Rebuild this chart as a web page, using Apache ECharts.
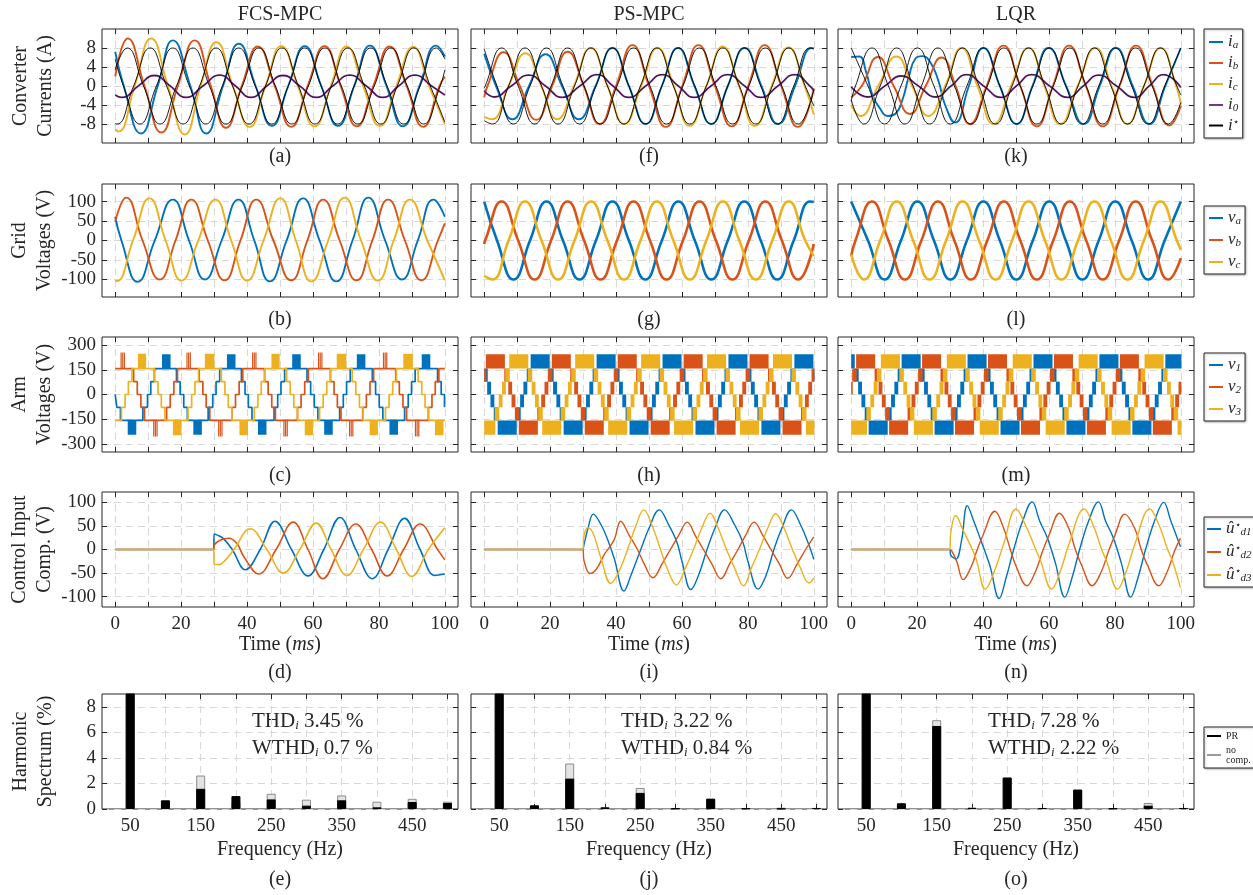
<!DOCTYPE html>
<html>
<head>
<meta charset="utf-8">
<script src="https://cdn.jsdelivr.net/npm/echarts@6/dist/echarts.min.js"></script>
<style>html,body{margin:0;padding:0;background:#fff}#chart{width:1253px;height:895px}</style>
</head>
<body>
<div id="chart"></div>
<script>
// ---------------- converter currents (A), [t ms, value] ----------------
const iaFcs = [[0,7.2],[2.6,0],[7.8,-10.0],[12.9,0],[17.5,9.6],[22.8,0],[27.6,-10.0],[32.7,0],[37.5,8.9],[42.6,0],[47.5,-8.4],[52.5,0],[57.5,8.4],[62.5,0],[67.6,-8.4],[72.5,0],[77.3,8.5],[82.3,0],[87.3,-8.5],[92.3,0],[97.4,8.5],[100,6.2]];
const ibFcs = [[0,2.0],[3.8,10.0],[8.9,0],[14.0,-9.8],[19.0,0],[24.1,9.6],[29.0,0],[33.6,-8.8],[38.4,0],[43.3,8.3],[48.4,0],[53.4,-8.6],[58.4,0],[63.5,8.4],[68.4,0],[73.3,-8.5],[78.3,0],[83.3,8.3],[88.4,0],[93.4,-8.6],[98.4,0],[100,2.0]];
const icFcs = [[0,-9.1],[1.0,-9.6],[5.9,0],[10.9,10.0],[16.0,0],[21.1,-10.2],[25.9,0],[30.7,9.2],[35.7,0],[40.8,-8.6],[45.6,0],[50.4,8.4],[55.4,0],[60.5,-8.5],[65.4,0],[70.2,8.3],[75.2,0],[80.3,-8.4],[85.3,0],[90.4,8.2],[95.2,0],[100,-8.0]];
const i0Fcs = [[0,-1.9],[2.0,-2.4],[7.0,0],[11.9,2.2],[16.7,0],[21.5,-2.4],[26.6,0],[31.7,2.3],[36.5,0],[41.2,-2.4],[46.0,0],[50.9,2.2],[56.0,0],[61.0,-2.4],[66.0,0],[71.2,2.3],[76.2,0],[81.2,-2.4],[86.0,0],[90.9,2.3],[96.0,0],[100,-1.9]];
const refAFcs = [[0,5.7],[2.5,0],[7.5,-8],[12.5,0],[17.5,8],[22.5,0],[27.5,-8],[32.5,0],[37.5,8],[42.5,0],[47.5,-8],[52.5,0],[57.5,8],[62.5,0],[67.5,-8],[72.5,0],[77.5,8],[82.5,0],[87.5,-8],[92.5,0],[97.5,8],[100,5.7]];
const refBFcs = [[0,3.4],[3.6,8],[8.6,0],[13.6,-8],[18.6,0],[23.6,8],[28.6,0],[33.6,-8],[38.6,0],[43.6,8],[48.6,0],[53.6,-8],[58.6,0],[63.6,8],[68.6,0],[73.6,-8],[78.6,0],[83.6,8],[88.6,0],[93.6,-8],[98.6,0],[100,3.4]];
const refCFcs = [[0,-7.9],[0.6,-8],[5.6,0],[10.6,8],[15.6,0],[20.6,-8],[25.6,0],[30.6,8],[35.6,0],[40.6,-8],[45.6,0],[50.6,8],[55.6,0],[60.6,-8],[65.6,0],[70.6,8],[75.6,0],[80.6,-8],[85.6,0],[90.6,8],[95.6,0],[100,-7.6]];

const iaPs = [[0,6.8],[3.6,0],[8.6,-7.0],[13.6,0],[18.6,6.7],[23.6,0],[28.7,-7.0],[33.8,0],[38.9,8.0],[43.9,0],[49.0,-8.0],[53.9,0],[58.8,8.0],[63.8,0],[68.9,-8.0],[73.9,0],[79.0,8.0],[84.1,0],[89.2,-8.0],[94.3,0],[99.4,8.0],[100,7.9]];
const ibPs = [[0,-2.4],[1.0,0],[5.9,7.1],[10.8,0],[15.8,-7.1],[20.6,0],[25.3,7.2],[30.2,0],[35.0,-8.0],[40.0,0],[45.0,8.6],[50.0,0],[55.1,-8.6],[60.1,0],[65.0,8.6],[70.0,0],[75.1,-8.5],[80.1,0],[85.1,8.6],[90.1,0],[95.2,-8.6],[100,-0.5]];
const icPs = [[0,-6.5],[2.3,-7.0],[7.4,0],[12.5,6.9],[17.3,0],[22.1,-7.0],[27.2,0],[32.3,8.0],[37.4,0],[42.5,-8.0],[47.6,0],[52.6,8.0],[57.5,0],[62.3,-8.4],[67.4,0],[72.4,8.3],[77.3,0],[82.1,-8.4],[87.2,0],[92.3,8.1],[97.2,0],[100,-6.0]];
const i0Ps = [[0,-1.0],[3.0,-2.3],[8.2,0],[13.5,2.3],[18.6,0],[23.7,-2.4],[29.0,0],[34.3,2.4],[39.1,0],[43.9,-2.4],[49.0,0],[54.1,2.4],[58.9,0],[63.7,-2.4],[68.8,0],[73.9,2.4],[79.0,0],[84.0,-2.4],[89.1,0],[94.2,2.4],[98.8,0],[100,-1.0]];
const refAPs = [[0,7.8],[3.9,0],[8.9,-8],[13.9,0],[18.9,8],[23.9,0],[28.9,-8],[33.9,0],[38.9,8],[43.9,0],[48.9,-8],[53.9,0],[58.9,8],[63.9,0],[68.9,-8],[73.9,0],[78.9,8],[83.9,0],[88.9,-8],[93.9,0],[98.9,8],[100,7.8]];
const refBPs = [[0,-0.5],[0.3,0],[5.3,8],[10.3,0],[15.3,-8],[20.3,0],[25.3,8],[30.3,0],[35.3,-8],[40.3,0],[45.3,8],[50.3,0],[55.3,-8],[60.3,0],[65.3,8],[70.3,0],[75.3,-8],[80.3,0],[85.3,8],[90.3,0],[95.3,-8],[100,-0.8]];
const refCPs = [[0,-7.3],[2.4,-8],[7.4,0],[12.4,8],[17.4,0],[22.4,-8],[27.4,0],[32.4,8],[37.4,0],[42.4,-8],[47.4,0],[52.4,8],[57.4,0],[62.4,-8],[67.4,0],[72.4,8],[77.4,0],[82.4,-8],[87.4,0],[92.4,8],[97.4,0],[100,-4.2]];

const iaLqr = [[0,6.1],[2.5,6.2],[4.5,3.0],[6.5,-2.0],[8.5,-4.5],[11.2,-6.3],[13.5,-5.8],[15.5,-3.0],[17.5,2.0],[19.5,5.8],[21.5,6.3],[24.0,5.0],[26.5,1.0],[28.5,-4.0],[31.5,-7.7],[35.7,0],[40.1,8.0],[45.1,0],[50.2,-8.0],[55.0,0],[59.9,8.0],[65.2,0],[70.6,-8.0],[75.4,0],[80.3,8.0],[85.4,0],[90.5,-8.0],[95.3,0],[100,8.0]];
const ibLqr = [[0,-2.4],[3.2,0],[8.1,6.1],[12.9,0],[17.8,-5.9],[22.6,0],[27.4,6.0],[31.7,0],[36.0,-8.0],[41.1,0],[46.2,8.5],[51.3,0],[56.3,-8.5],[61.2,0],[66.1,8.5],[71.2,0],[76.3,-8.5],[81.4,0],[86.4,8.5],[91.5,0],[96.6,-8.3],[100,-4.2]];
const icLqr = [[0,-4.0],[2.8,-6.3],[8.2,0],[13.7,6.2],[18.5,0],[23.4,-6.3],[28.5,0],[33.5,8.0],[38.3,0],[43.2,-8.0],[48.5,0],[53.8,8.0],[58.6,0],[63.4,-8.0],[68.7,0],[74.1,8.0],[79.0,0],[83.8,-8.0],[88.8,0],[93.9,8.0],[98.6,0],[100,-3.8]];
const i0Lqr = [[0,-0.2],[5.0,-2.3],[10.2,0],[15.2,2.1],[20.4,0],[25.6,-2.3],[30.3,0],[35.0,2.4],[40.2,0],[45.4,-2.4],[50.1,0],[54.8,2.4],[60.2,0],[65.7,-2.4],[70.4,0],[75.1,2.3],[80.5,0],[86.0,-2.4],[90.4,0],[94.8,2.4],[100,-0.3]];
const refALqr = [[0,8],[5.1,0],[10.1,-8],[15.1,0],[20.1,8],[25.1,0],[30.1,-8],[35.1,0],[40.1,8],[45.1,0],[50.1,-8],[55.1,0],[60.1,8],[65.1,0],[70.1,-8],[75.1,0],[80.1,8],[85.1,0],[90.1,-8],[95.1,0],[100,8]];
const refBLqr = [[0,-3.2],[1.3,0],[6.3,8],[11.3,0],[16.3,-8],[21.3,0],[26.3,8],[31.3,0],[36.3,-8],[41.3,0],[46.3,8],[51.3,0],[56.3,-8],[61.3,0],[66.3,8],[71.3,0],[76.3,-8],[81.3,0],[86.3,8],[91.3,0],[96.3,-8],[100,-3.5]];
const refCLqr = [[0,-2.9],[3.8,-8],[8.8,0],[13.8,8],[18.8,0],[23.8,-8],[28.8,0],[33.8,8],[38.8,0],[43.8,-8],[48.8,0],[53.8,8],[58.8,0],[63.8,-8],[68.8,0],[73.8,8],[78.8,0],[83.8,-8],[88.8,0],[93.8,8],[98.8,0],[100,-1.9]];

// ---------------- grid voltages (V) ----------------
const vaFcs = [[0,61],[1.9,0],[6.8,-106],[12.0,0],[17.5,105],[22.4,0],[27.2,-100],[32.3,0],[37.4,105],[42.2,0],[46.9,-105],[52.0,0],[57.0,108],[62.0,0],[67.1,-105],[72.0,0],[76.8,110],[81.9,0],[87.0,-100],[91.8,0],[96.6,105],[100,61]];
const vbFcs = [[0,48],[3.3,110],[8.3,0],[13.5,-100],[18.3,0],[23.1,105],[28.1,0],[33.2,-102],[38.0,0],[42.8,105],[48.0,0],[53.4,-102],[58.3,0],[63.1,105],[68.1,0],[73.2,-102],[78.0,0],[82.8,105],[87.9,0],[92.9,-102],[97.9,0],[100,44]];
const vcFcs = [[0,-102],[0.5,-104],[5.4,0],[10.4,108],[15.3,0],[20.1,-103],[25.2,0],[30.4,105],[35.2,0],[40.0,-103],[45.0,0],[50.1,108],[54.8,0],[59.5,-105],[64.6,0],[69.6,110],[74.6,0],[79.7,-103],[84.5,0],[89.4,105],[94.7,0],[100,-102]];
const vaPs = [[0,99],[3.9,0],[8.9,-100],[13.9,0],[18.9,100],[23.9,0],[28.9,-100],[33.9,0],[38.9,100],[43.9,0],[48.9,-100],[53.9,0],[58.9,100],[63.9,0],[68.9,-100],[73.9,0],[78.9,100],[83.9,0],[88.9,-100],[93.9,0],[98.9,100],[100,99]];
const vbPs = [[0,-9],[0.3,0],[5.3,100],[10.3,0],[15.3,-100],[20.3,0],[25.3,100],[30.3,0],[35.3,-100],[40.3,0],[45.3,100],[50.3,0],[55.3,-100],[60.3,0],[65.3,100],[70.3,0],[75.3,-100],[80.3,0],[85.3,100],[90.3,0],[95.3,-100],[100,-9]];
const vcPs = [[0,-91],[2.4,-100],[7.4,0],[12.4,100],[17.4,0],[22.4,-100],[27.4,0],[32.4,100],[37.4,0],[42.4,-100],[47.4,0],[52.4,100],[57.4,0],[62.4,-100],[67.4,0],[72.4,100],[77.4,0],[82.4,-100],[87.4,0],[92.4,100],[97.4,0],[100,-40]];
const vaLqr = [[0,100],[5.1,0],[10.1,-100],[15.1,0],[20.1,100],[25.1,0],[30.1,-100],[35.1,0],[40.1,100],[45.1,0],[50.1,-100],[55.1,0],[60.1,100],[65.1,0],[70.1,-100],[75.1,0],[80.1,100],[85.1,0],[90.1,-100],[95.1,0],[100,100]];
const vbLqr = [[0,-40],[1.3,0],[6.3,100],[11.3,0],[16.3,-100],[21.3,0],[26.3,100],[31.3,0],[36.3,-100],[41.3,0],[46.3,100],[51.3,0],[56.3,-100],[61.3,0],[66.3,100],[71.3,0],[76.3,-100],[81.3,0],[86.3,100],[91.3,0],[96.3,-100],[100,-45]];
const vcLqr = [[0,-36],[3.8,-100],[8.8,0],[13.8,100],[18.8,0],[23.8,-100],[28.8,0],[33.8,100],[38.8,0],[43.8,-100],[48.8,0],[53.8,100],[58.8,0],[63.8,-100],[68.8,0],[73.8,100],[78.8,0],[83.8,-100],[88.8,0],[93.8,100],[98.8,0],[100,-24]];

// ---------------- arm voltages (V) ----------------
// FCS-MPC: step levels [t, v] plus switching bursts [t0, t1, lo, hi]
const v1Fcs = [[0,0],[0.5,-78],[1.6,-158],[8.4,-78],[9.8,0],[10.8,78],[11.9,158],[18.6,78],[19.7,0],[20.8,-78],[21.9,-158],[28.2,-78],[29.6,0],[30.6,78],[31.7,158],[38.3,78],[39.4,0],[40.4,-78],[41.5,-158],[48.2,-78],[49.3,0],[50.3,78],[51.4,158],[58.2,78],[59.3,0],[60.4,-78],[61.5,-158],[68.1,-78],[69.2,0],[70.2,78],[71.3,158],[78.0,78],[79.0,0],[80.1,-78],[81.2,-158],[87.8,-78],[88.9,0],[89.9,78],[91.0,158],[97.8,78],[98.9,0],[99.9,-78],[100,-78]];
const v2Fcs = [[0,158],[5.6,78],[6.7,0],[7.8,-78],[8.9,-158],[15.6,-78],[16.7,0],[17.8,78],[18.9,158],[25.5,78],[26.6,0],[27.6,-78],[28.7,-158],[35.4,-78],[36.5,0],[37.6,78],[38.7,158],[45.3,78],[46.4,0],[47.5,-78],[48.6,-158],[55.3,-78],[56.4,0],[57.5,78],[58.6,158],[65.3,78],[66.4,0],[67.4,-78],[68.5,-158],[75.1,-78],[76.2,0],[77.3,78],[78.4,158],[85.1,78],[86.2,0],[87.3,-78],[88.4,-158],[95.0,-78],[96.1,0],[97.1,78],[98.2,158],[100,158]];
const v3Fcs = [[0,-158],[1.9,-78],[3.0,0],[4.0,78],[5.1,158],[11.9,78],[13.0,0],[14.0,-78],[15.1,-158],[22.1,-78],[23.2,0],[24.2,78],[25.3,158],[32.2,78],[33.3,0],[34.3,-78],[35.4,-158],[42.2,-78],[43.3,0],[44.3,78],[45.4,158],[52.0,78],[53.1,0],[54.2,-78],[55.3,-158],[62.0,-78],[63.1,0],[64.2,78],[65.3,158],[71.9,78],[73.0,0],[74.1,-78],[75.2,-158],[82.0,-78],[83.1,0],[84.2,78],[85.3,158],[91.9,78],[93.0,0],[94.0,-78],[95.1,-158],[100,-158]];
const v1FcsBurst = [[3.8,6.4,-245,-158],[14.2,16.8,158,245],[23.7,26.3,-245,-158],[33.9,36.5,158,245],[43.3,45.9,-245,-158],[53.7,56.3,158,245],[63.4,66.0,-245,-158],[73.3,75.9,158,245],[83.2,85.8,-245,-158],[93.0,95.6,158,245]];
const v2FcsBurst = [[1.8,2.8,158,255],[11.7,12.7,-255,-158],[21.8,22.8,158,255],[31.4,32.4,-255,-158],[41.7,42.7,158,255],[51.2,52.2,-255,-158],[61.7,62.7,158,255],[71.1,72.1,-255,-158],[81.4,82.4,158,255],[91.1,92.1,-255,-158]];
const v3FcsBurst = [[6.9,9.4,158,248],[17.5,20.1,-248,-158],[27.2,30.1,158,248],[37.7,40.3,-248,-158],[47.4,49.9,158,248],[57.5,60.0,-248,-158],[67.2,70.1,158,248],[77.2,79.7,-248,-158],[87.4,90.3,158,248],[97.0,99.6,-248,-158]];

// PS-MPC and LQR: modulated, the arm voltage switches between two levels: [t from, lo, hi]
const v1Ps = [[0,78,158],[0.9,0,78],[1.9,-78,0],[2.9,-158,-78],[4.1,-245,-158],[9.7,-158,-78],[10.9,-78,0],[11.9,0,78],[12.9,78,158],[14.1,158,245],[19.7,78,158],[20.9,0,78],[21.9,-78,0],[22.9,-158,-78],[24.1,-245,-158],[29.7,-158,-78],[30.9,-78,0],[31.9,0,78],[32.9,78,158],[34.1,158,245],[39.7,78,158],[40.9,0,78],[41.9,-78,0],[42.9,-158,-78],[44.1,-245,-158],[49.7,-158,-78],[50.9,-78,0],[51.9,0,78],[52.9,78,158],[54.1,158,245],[59.7,78,158],[60.9,0,78],[61.9,-78,0],[62.9,-158,-78],[64.1,-245,-158],[69.7,-158,-78],[70.9,-78,0],[71.9,0,78],[72.9,78,158],[74.1,158,245],[79.7,78,158],[80.9,0,78],[81.9,-78,0],[82.9,-158,-78],[84.1,-245,-158],[89.7,-158,-78],[90.9,-78,0],[91.9,0,78],[92.9,78,158],[94.1,158,245],[99.7,78,158],[100,78,158]];
const v2Ps = [[0,78,158],[0.5,158,245],[6.1,78,158],[7.3,0,78],[8.3,-78,0],[9.3,-158,-78],[10.5,-245,-158],[16.1,-158,-78],[17.3,-78,0],[18.3,0,78],[19.3,78,158],[20.5,158,245],[26.1,78,158],[27.3,0,78],[28.3,-78,0],[29.3,-158,-78],[30.5,-245,-158],[36.1,-158,-78],[37.3,-78,0],[38.3,0,78],[39.3,78,158],[40.5,158,245],[46.1,78,158],[47.3,0,78],[48.3,-78,0],[49.3,-158,-78],[50.5,-245,-158],[56.1,-158,-78],[57.3,-78,0],[58.3,0,78],[59.3,78,158],[60.5,158,245],[66.1,78,158],[67.3,0,78],[68.3,-78,0],[69.3,-158,-78],[70.5,-245,-158],[76.1,-158,-78],[77.3,-78,0],[78.3,0,78],[79.3,78,158],[80.5,158,245],[86.1,78,158],[87.3,0,78],[88.3,-78,0],[89.3,-158,-78],[90.5,-245,-158],[96.1,-158,-78],[97.3,-78,0],[98.3,0,78],[99.3,78,158],[100,78,158]];
const v3Ps = [[0,-245,-158],[3.2,-158,-78],[4.4,-78,0],[5.4,0,78],[6.4,78,158],[7.6,158,245],[13.2,78,158],[14.4,0,78],[15.4,-78,0],[16.4,-158,-78],[17.6,-245,-158],[23.2,-158,-78],[24.4,-78,0],[25.4,0,78],[26.4,78,158],[27.6,158,245],[33.2,78,158],[34.4,0,78],[35.4,-78,0],[36.4,-158,-78],[37.6,-245,-158],[43.2,-158,-78],[44.4,-78,0],[45.4,0,78],[46.4,78,158],[47.6,158,245],[53.2,78,158],[54.4,0,78],[55.4,-78,0],[56.4,-158,-78],[57.6,-245,-158],[63.2,-158,-78],[64.4,-78,0],[65.4,0,78],[66.4,78,158],[67.6,158,245],[73.2,78,158],[74.4,0,78],[75.4,-78,0],[76.4,-158,-78],[77.6,-245,-158],[83.2,-158,-78],[84.4,-78,0],[85.4,0,78],[86.4,78,158],[87.6,158,245],[93.2,78,158],[94.4,0,78],[95.4,-78,0],[96.4,-158,-78],[97.6,-245,-158],[100,-245,-158]];
const v1Lqr = [[0,158,245],[0.9,78,158],[2.1,0,78],[3.1,-78,0],[4.1,-158,-78],[5.3,-245,-158],[10.9,-158,-78],[12.1,-78,0],[13.1,0,78],[14.1,78,158],[15.3,158,245],[20.9,78,158],[22.1,0,78],[23.1,-78,0],[24.1,-158,-78],[25.3,-245,-158],[30.9,-158,-78],[32.1,-78,0],[33.1,0,78],[34.1,78,158],[35.3,158,245],[40.9,78,158],[42.1,0,78],[43.1,-78,0],[44.1,-158,-78],[45.3,-245,-158],[50.9,-158,-78],[52.1,-78,0],[53.1,0,78],[54.1,78,158],[55.3,158,245],[60.9,78,158],[62.1,0,78],[63.1,-78,0],[64.1,-158,-78],[65.3,-245,-158],[70.9,-158,-78],[72.1,-78,0],[73.1,0,78],[74.1,78,158],[75.3,158,245],[80.9,78,158],[82.1,0,78],[83.1,-78,0],[84.1,-158,-78],[85.3,-245,-158],[90.9,-158,-78],[92.1,-78,0],[93.1,0,78],[94.1,78,158],[95.3,158,245],[100,158,245]];
const v2Lqr = [[0,0,78],[0.3,78,158],[1.5,158,245],[7.1,78,158],[8.3,0,78],[9.3,-78,0],[10.3,-158,-78],[11.5,-245,-158],[17.1,-158,-78],[18.3,-78,0],[19.3,0,78],[20.3,78,158],[21.5,158,245],[27.1,78,158],[28.3,0,78],[29.3,-78,0],[30.3,-158,-78],[31.5,-245,-158],[37.1,-158,-78],[38.3,-78,0],[39.3,0,78],[40.3,78,158],[41.5,158,245],[47.1,78,158],[48.3,0,78],[49.3,-78,0],[50.3,-158,-78],[51.5,-245,-158],[57.1,-158,-78],[58.3,-78,0],[59.3,0,78],[60.3,78,158],[61.5,158,245],[67.1,78,158],[68.3,0,78],[69.3,-78,0],[70.3,-158,-78],[71.5,-245,-158],[77.1,-158,-78],[78.3,-78,0],[79.3,0,78],[80.3,78,158],[81.5,158,245],[87.1,78,158],[88.3,0,78],[89.3,-78,0],[90.3,-158,-78],[91.5,-245,-158],[97.1,-158,-78],[98.3,-78,0],[99.3,0,78],[100,0,78]];
const v3Lqr = [[0,-245,-158],[4.6,-158,-78],[5.8,-78,0],[6.8,0,78],[7.8,78,158],[9.0,158,245],[14.6,78,158],[15.8,0,78],[16.8,-78,0],[17.8,-158,-78],[19.0,-245,-158],[24.6,-158,-78],[25.8,-78,0],[26.8,0,78],[27.8,78,158],[29.0,158,245],[34.6,78,158],[35.8,0,78],[36.8,-78,0],[37.8,-158,-78],[39.0,-245,-158],[44.6,-158,-78],[45.8,-78,0],[46.8,0,78],[47.8,78,158],[49.0,158,245],[54.6,78,158],[55.8,0,78],[56.8,-78,0],[57.8,-158,-78],[59.0,-245,-158],[64.6,-158,-78],[65.8,-78,0],[66.8,0,78],[67.8,78,158],[69.0,158,245],[74.6,78,158],[75.8,0,78],[76.8,-78,0],[77.8,-158,-78],[79.0,-245,-158],[84.6,-158,-78],[85.8,-78,0],[86.8,0,78],[87.8,78,158],[89.0,158,245],[94.6,78,158],[95.8,0,78],[96.8,-78,0],[97.8,-158,-78],[99.0,-245,-158],[100,-245,-158]];

// ---------------- control input compensation (V) ----------------
const ud1Fcs = [[0,0],[29.9,0],[30,33],[31.2,30],[33,22],[35.5,0],[39.5,-43],[44,0],[48.5,60],[53.5,0],[58.5,-56],[63.3,0],[68.2,68],[73,0],[78,-62],[82.8,0],[87.8,66],[92.5,0],[97,-55],[100,-52]];
const ud2Fcs = [[0,0],[29.9,0],[30,8],[32,20],[34.5,24],[37,12],[39,-15],[43.5,-52],[48.8,0],[54,58],[58.5,0],[63,-62],[68,0],[73,54],[77.8,0],[82.5,-56],[87.5,0],[92.5,54],[97.8,0],[100,-22]];
const ud3Fcs = [[0,0],[29.9,0],[30,-30],[31.5,-32],[33.5,-22],[36,0],[41,44],[46,0],[51,-50],[56,0],[61,56],[65.5,0],[70.3,-55],[75.3,0],[80.5,58],[85.3,0],[90,-57],[95,0],[100,46]];
const ud1Ps = [[0,0],[29.9,0],[30.2,8],[31.5,45],[33.1,75],[35.5,52],[37.5,20],[39.5,-20],[42.4,-88],[44.5,-55],[47.5,0],[50,45],[53.1,84],[56,52],[58.5,15],[60,-25],[62.7,-85],[65,-55],[67.6,0],[70,45],[72.9,84],[76,52],[78.5,15],[80,-25],[83.1,-84],[85.5,-55],[87.9,0],[90.3,45],[93.2,84],[96,52],[98.5,10],[100,-21]];
const ud2Ps = [[0,0],[29.9,0],[30.3,-25],[32.1,-51],[34,-42],[36.5,-10],[39.4,20],[41.4,60],[44,30],[46.5,0],[48.5,-30],[51.2,-60],[54,-30],[56.5,0],[59,30],[61.6,58],[64,30],[66.5,0],[69,-30],[71.8,-62],[74.5,-30],[77,0],[79.3,30],[81.9,58],[84.5,30],[87,0],[89.5,-30],[92.1,-61],[95,-30],[97.5,0],[100,27]];
const ud3Ps = [[0,0],[29.9,0],[30.3,30],[31.4,46],[33,35],[35.5,-20],[38.4,-72],[41,-45],[43.5,0],[46,50],[48.4,84],[51,50],[53.5,0],[55.5,-40],[58.3,-75],[61,-40],[63.5,0],[66,45],[68.5,77],[71,45],[73.5,0],[76,-40],[78.7,-77],[81,-40],[83.5,0],[86,45],[88.4,76],[91,45],[93.5,0],[96,-40],[98.5,-71],[100,-60]];
const ud1Lqr = [[0,0],[29.9,0],[30.2,-12],[31.8,-20],[33.5,20],[35.2,93],[37.2,60],[39.1,24],[42.1,-35],[44.9,-104],[47,-60],[49.3,0],[52,60],[54.9,101],[57.2,60],[59.5,25],[62,-30],[64.8,-101],[67,-60],[69.3,0],[72,60],[75,101],[77.2,60],[79.5,25],[82,-30],[84.8,-101],[87,-60],[89.3,0],[92,60],[94.8,100],[97,60],[99.9,6]];
const ud2Lqr = [[0,0],[29.9,0],[30.5,-3],[32,-25],[34,-64],[36.5,-35],[38,-5],[39.8,27],[43.6,81],[46,50],[48.5,-5],[50,-35],[53.3,-77],[56,-45],[58,-5],[60,30],[63.2,77],[66,45],[68,0],[70,-35],[73.1,-77],[76,-45],[78,-5],[80,30],[83,75],[86,45],[88,0],[90,-35],[93.3,-77],[96,-45],[98,-5],[99.9,24]];
const ud3Lqr = [[0,0],[29.9,0],[30.2,35],[31.7,72],[34,40],[37.7,-16],[40.7,-84],[43.5,-45],[46.3,13],[50,86],[53,50],[56,0],[57.5,-25],[60.8,-84],[63.5,-45],[66,10],[70.7,86],[73.5,50],[76,0],[77.5,-25],[80.8,-84],[83.5,-45],[86,10],[90.6,86],[93.5,50],[96,0],[97.5,-25],[99.9,-81]];

// ---------------- harmonic spectrum (%) ----------------
const harmFreq = [50, 100, 150, 200, 250, 300, 350, 400, 450, 500];
const prFcs = [100, 0.68, 1.58, 1.01, 0.75, 0.26, 0.68, 0.13, 0.55, 0.47];
const noFcs = [100, 0.60, 2.62, 0.50, 1.19, 0.73, 1.06, 0.57, 0.80, 0.57];
const prPs = [100, 0.29, 2.38, 0.13, 1.26, 0.05, 0.81, 0.05, 0.03, 0.08];
const noPs = [100, 0.25, 3.56, 0.10, 1.65, 0.05, 0.78, 0.08, 0.10, 0.08];
const prLqr = [100, 0.45, 6.50, 0.08, 2.46, 0.08, 1.52, 0.05, 0.26, 0.08];
const noLqr = [100, 0.40, 6.95, 0.12, 2.46, 0.08, 1.50, 0.05, 0.47, 0.08];
const thdText = [['3.45', '0.7'], ['3.22', '0.84'], ['7.28', '2.22']];

// ---------------- axes ----------------
const timeTicks = [0, 10, 20, 30, 40, 50, 60, 70, 80, 90, 100];
const timeLabels = [0, 20, 40, 60, 80, 100];
const freqTicks = [50, 100, 150, 200, 250, 300, 350, 400, 450, 500];
const freqLabels = [50, 150, 250, 350, 450];
const yRange = [[-12, 12], [-145, 145], [-350, 350], [-122, 122], [0, 9]];
const yTicks = [[-8, -4, 0, 4, 8], [-100, -50, 0, 50, 100], [-300, -150, 0, 150, 300], [-100, -50, 0, 50, 100], [0, 2, 4, 6, 8]];
const rowNames = ['Converter\nCurrents (A)', 'Grid\nVoltages (V)', 'Arm\nVoltages (V)', 'Control Input\nComp. (V)', 'Harmonic\nSpectrum (%)'];
const colTitles = ['FCS-MPC', 'PS-MPC', 'LQR'];

// ---------------- layout ----------------
const FONT = 'Liberation Serif';
const AX = '#262626';
const GRIDC = '#d9d9d9';
const C_A = '#0072BD', C_B = '#D95319', C_C = '#EDB120', C_P = '#7E2F8E', C_K = '#000000';
const colLeft = [102, 471, 838];
const colWidth = 356;
const rowTop = [29, 184, 337, 492, 694];
const rowHeight = [114, 113, 115, 115, 115];
const letterY = [157, 320, 476, 673, 880];

const option = {
    animation: false,
    backgroundColor: '#ffffff',
    grid: [], xAxis: [], yAxis: [], series: [], legend: [], graphic: []
};

function addPanel(row, col) {
    const g = option.grid.length;
    const isF = row === 4;
    const xr = isF ? [10, 515] : [-4, 104];
    const xt = isF ? freqTicks : timeTicks;
    const xl = isF ? freqLabels : timeLabels;
    const tick = vals => ({ show: true, inside: true, length: 5, customValues: vals, lineStyle: { color: AX, width: 1 } });
    const split = { show: true, lineStyle: { color: GRIDC, width: 1, type: [7, 5] } };
    const lab = { fontFamily: FONT, fontSize: 19, color: AX };
    const noLine = { show: false, onZero: false };
    option.grid.push({
        left: colLeft[col], top: rowTop[row], width: colWidth, height: rowHeight[row],
        show: true, borderColor: AX, borderWidth: 1, backgroundColor: 'rgba(0,0,0,0)',
        containLabel: false, outerBoundsMode: 'none'
    });
    option.xAxis.push({
        type: 'value', gridIndex: g, position: 'bottom', min: xr[0], max: xr[1],
        axisLine: noLine, axisTick: tick(xt), splitLine: split,
        axisLabel: Object.assign({ show: row >= 3, customValues: xl, margin: 8 }, lab),
        name: row === 3 ? 'Time ({m|ms})' : (isF ? 'Frequency (Hz)' : ''),
        nameLocation: 'middle', nameGap: isF ? 31 : 28,
        nameTextStyle: { fontFamily: FONT, fontSize: 20, color: AX,
            rich: { m: { fontFamily: FONT, fontSize: 20, fontStyle: 'italic', color: AX } } }
    });
    option.xAxis.push({
        type: 'value', gridIndex: g, position: 'top', min: xr[0], max: xr[1],
        axisLine: noLine, axisTick: tick(xt), axisLabel: { show: false }, splitLine: { show: false }
    });
    option.yAxis.push({
        type: 'value', gridIndex: g, position: 'left', min: yRange[row][0], max: yRange[row][1],
        axisLine: noLine, axisTick: tick(yTicks[row]), splitLine: split,
        axisLabel: Object.assign({ show: col === 0, customValues: yTicks[row], margin: 6 }, lab),
        name: col === 0 ? rowNames[row] : '', nameLocation: 'middle', nameGap: 44, nameRotate: 90,
        nameTextStyle: { fontFamily: FONT, fontSize: 20, color: AX, lineHeight: 25 }
    });
    option.yAxis.push({
        type: 'value', gridIndex: g, position: 'right', min: yRange[row][0], max: yRange[row][1],
        axisLine: noLine, axisTick: tick(yTicks[row]), axisLabel: { show: false }, splitLine: { show: false }
    });
    return g;
}

function line(g, name, data, color, width, extra) {
    option.series.push(Object.assign({
        type: 'line', name, data, xAxisIndex: 2 * g, yAxisIndex: 2 * g,
        symbol: 'none', showSymbol: false, silent: true, clip: true,
        emphasis: { disabled: true },
        lineStyle: { color, width }, itemStyle: { color }
    }, extra || {}));
}

// FCS-MPC bursts: solid block, or a few separate spikes
function burst(g, name, data, color, spikes) {
    option.series.push({
        type: 'custom', name, data, xAxisIndex: 2 * g, yAxisIndex: 2 * g,
        encode: { x: [0, 1], y: [2, 3] }, clip: true, silent: true, itemStyle: { color },
        renderItem: function (params, api) {
            const a = api.coord([api.value(0), api.value(3)]);
            const b = api.coord([api.value(1), api.value(2)]);
            if (!spikes) {
                return { type: 'rect', shape: { x: a[0], y: a[1], width: b[0] - a[0], height: b[1] - a[1] }, style: { fill: color } };
            }
            const kids = [];
            for (let k = 0; k < spikes; k++) {
                const x = a[0] + (b[0] - a[0]) * k / (spikes - 1);
                kids.push({ type: 'line', shape: { x1: x, y1: a[1], x2: x, y2: b[1] }, style: { stroke: color, lineWidth: 1.2 } });
            }
            return { type: 'group', children: kids };
        }
    });
}

// modulated arm voltage: filled band between the two switching levels, until the next entry
function band(g, name, data, color) {
    option.series.push({
        type: 'custom', name, data, xAxisIndex: 2 * g, yAxisIndex: 2 * g,
        encode: { x: 0, y: [1, 2] }, clip: true, silent: true, itemStyle: { color },
        renderItem: function (params, api) {
            const i = params.dataIndexInside;
            if (i >= params.dataInsideLength - 1) return null;
            const a = api.coord([api.value(0), api.value(2)]);
            const b = api.coord([api.value(0, i + 1), api.value(1)]);
            return { type: 'rect', shape: { x: a[0], y: a[1], width: b[0] - a[0] + 0.6, height: b[1] - a[1] }, style: { fill: color } };
        }
    });
}

function bars(g, pr, nocomp) {
    option.series.push({
        type: 'bar', name: 'no comp.', xAxisIndex: 2 * g, yAxisIndex: 2 * g, silent: true,
        data: harmFreq.map((f, i) => [f, nocomp[i]]), barWidth: 9, barGap: '-100%',
        itemStyle: { color: '#e3e3e3', borderColor: '#8c8c8c', borderWidth: 1 }
    });
    option.series.push({
        type: 'bar', name: 'PR', xAxisIndex: 2 * g, yAxisIndex: 2 * g, silent: true,
        data: harmFreq.map((f, i) => [f, pr[i]]), barWidth: 9, barGap: '-100%',
        itemStyle: { color: '#000000', borderColor: '#000000', borderWidth: 1 }
    });
}

// row 1: currents
const curSets = [
    [iaFcs, ibFcs, icFcs, i0Fcs, [refAFcs, refBFcs, refCFcs], i0Fcs],
    [iaPs, ibPs, icPs, i0Ps, [refAPs, refBPs, refCPs], i0Ps],
    [iaLqr, ibLqr, icLqr, i0Lqr, [refALqr, refBLqr, refCLqr], i0Lqr]
];
curSets.forEach((s, col) => {
    const g = addPanel(0, col);
    const sm = { smooth: 0.5 };
    line(g, 'i_a', s[0], C_A, 1.9, sm);
    line(g, 'i_b', s[1], C_B, 1.9, sm);
    line(g, 'i_c', s[2], C_C, 1.9, sm);
    line(g, 'i_0', s[3], C_P, 1.9, sm);
    s[4].forEach(r => line(g, 'i*', r, C_K, 0.9, sm));
    line(g, 'i*', s[5], C_K, 0.6, sm);
});

// row 2: grid voltages
[[vaFcs, vbFcs, vcFcs, 1.9], [vaPs, vbPs, vcPs, 2.6], [vaLqr, vbLqr, vcLqr, 2.6]].forEach((s, col) => {
    const g = addPanel(1, col);
    line(g, 'v_a', s[0], C_A, s[3], { smooth: 0.5 });
    line(g, 'v_b', s[1], C_B, s[3], { smooth: 0.5 });
    line(g, 'v_c', s[2], C_C, s[3], { smooth: 0.5 });
});

// row 3: arm voltages
const armNames = ['v_1', 'v_2', 'v_3'];
const armColors = [C_A, C_B, C_C];
{
    const g = addPanel(2, 0);
    const steps = [v1Fcs, v2Fcs, v3Fcs];
    const bursts = [v1FcsBurst, v2FcsBurst, v3FcsBurst];
    const spikes = [0, 3, 0];
    for (let k = 0; k < 3; k++) {
        line(g, armNames[k], steps[k], armColors[k], 1.7, { step: 'end' });
        burst(g, armNames[k], bursts[k], armColors[k], spikes[k]);
    }
}
[[v1Ps, v2Ps, v3Ps], [v1Lqr, v2Lqr, v3Lqr]].forEach((s, i) => {
    const g = addPanel(2, i + 1);
    for (let k = 0; k < 3; k++) band(g, armNames[k], s[k], armColors[k]);
});

// row 4: control input compensation
[[ud1Fcs, ud2Fcs, ud3Fcs, 1.6], [ud1Ps, ud2Ps, ud3Ps, 1.4], [ud1Lqr, ud2Lqr, ud3Lqr, 1.4]].forEach((s, col) => {
    const g = addPanel(3, col);
    line(g, 'u_d1', s[0], C_A, s[3], { smooth: 0.4 });
    line(g, 'u_d2', s[1], C_B, s[3], { smooth: 0.4 });
    line(g, 'u_d3', s[2], C_C, s[3], { smooth: 0.4 });
});

// row 5: harmonic spectrum
[[prFcs, noFcs], [prPs, noPs], [prLqr, noLqr]].forEach((s, col) => {
    const g = addPanel(4, col);
    bars(g, s[0], s[1]);
});

// legends
const LEG = {
    'i_a': '{v|i}{s|a}', 'i_b': '{v|i}{s|b}', 'i_c': '{v|i}{s|c}', 'i_0': '{v|i}{s|0}', 'i*': '{v|i}{p|⋆}',
    'v_a': '{v|v}{s|a}', 'v_b': '{v|v}{s|b}', 'v_c': '{v|v}{s|c}',
    'v_1': '{v|v}{s|1}', 'v_2': '{v|v}{s|2}', 'v_3': '{v|v}{s|3}',
    'u_d1': '{v|û}{p|⋆}{s|d1}', 'u_d2': '{v|û}{p|⋆}{s|d2}', 'u_d3': '{v|û}{p|⋆}{s|d3}',
    'PR': '{t|PR}', 'no comp.': '{t|no}\n{t|comp.}'
};
const RICH = {
    v: { fontFamily: FONT, fontStyle: 'italic', fontSize: 17, lineHeight: 18, color: AX },
    s: { fontFamily: FONT, fontStyle: 'italic', fontSize: 11, lineHeight: 11, padding: [7, 0, 0, 0], color: AX },
    p: { fontFamily: FONT, fontSize: 10, lineHeight: 10, padding: [0, 0, 7, 0], color: AX },
    t: { fontFamily: FONT, fontSize: 10, lineHeight: 10, color: AX }
};
function addLegend(top, names, gap, pad) {
    option.legend.push({
        orient: 'vertical', left: 1204, top, padding: pad, itemGap: gap,
        itemWidth: 14, itemHeight: 2, icon: 'rect', selectedMode: false,
        borderColor: AX, borderWidth: 1, backgroundColor: '#ffffff',
        shadowColor: 'rgba(0,0,0,0.25)', shadowBlur: 2, shadowOffsetX: 1, shadowOffsetY: 1,
        itemStyle: { borderWidth: 0 },
        data: names, formatter: n => LEG[n],
        textStyle: { fontFamily: FONT, fontSize: 16, color: AX, rich: RICH }
    });
}
addLegend(29, ['i_a', 'i_b', 'i_c', 'i_0', 'i*'], 3, [4, 4, 4, 5]);
addLegend(206, ['v_a', 'v_b', 'v_c'], 4, [3, 4, 3, 5]);
addLegend(353, ['v_1', 'v_2', 'v_3'], 4, [3, 4, 3, 5]);
addLegend(517, ['u_d1', 'u_d2', 'u_d3'], 5, [3, 3, 3, 3]);
addLegend(727, [{ name: 'PR', itemStyle: { color: '#000' } }, { name: 'no comp.', itemStyle: { color: '#9a9a9a' } }], 4, [4, 3, 3, 3]);

// titles, panel letters, THD annotations
const letters = 'abcdefghijklmno';
for (let col = 0; col < 3; col++) {
    const cx = colLeft[col] + colWidth / 2;
    option.graphic.push({ type: 'text', x: cx, y: 15, silent: true,
        style: { text: colTitles[col], font: '20px "Liberation Serif"', fill: AX, align: 'center', verticalAlign: 'middle', textAlign: 'center', textVerticalAlign: 'middle' } });
    for (let row = 0; row < 5; row++) {
        option.graphic.push({ type: 'text', x: cx, y: letterY[row], silent: true,
            style: { text: '(' + letters[col * 5 + row] + ')', font: '20px "Liberation Serif"', fill: AX, align: 'center', verticalAlign: 'middle', textAlign: 'center', textVerticalAlign: 'middle' } });
    }
    const tx = [252, 621, 988][col];
    const rich = {
        a: { fontFamily: FONT, fontSize: 21, fill: AX, color: AX },
        s: { fontFamily: FONT, fontSize: 13, fontStyle: 'italic', fill: AX, color: AX, padding: [9, 0, 0, 0] }
    };
    option.graphic.push({ type: 'text', x: tx, y: 721, silent: true,
        style: { text: '{a|THD}{s|i}{a| ' + thdText[col][0] + ' %}', rich, verticalAlign: 'middle', textVerticalAlign: 'middle' } });
    option.graphic.push({ type: 'text', x: tx, y: 748, silent: true,
        style: { text: '{a|WTHD}{s|i}{a| ' + thdText[col][1] + ' %}', rich, verticalAlign: 'middle', textVerticalAlign: 'middle' } });
}

const chart = echarts.init(document.getElementById('chart'));
chart.setOption(option);
</script>
</body>
</html>
